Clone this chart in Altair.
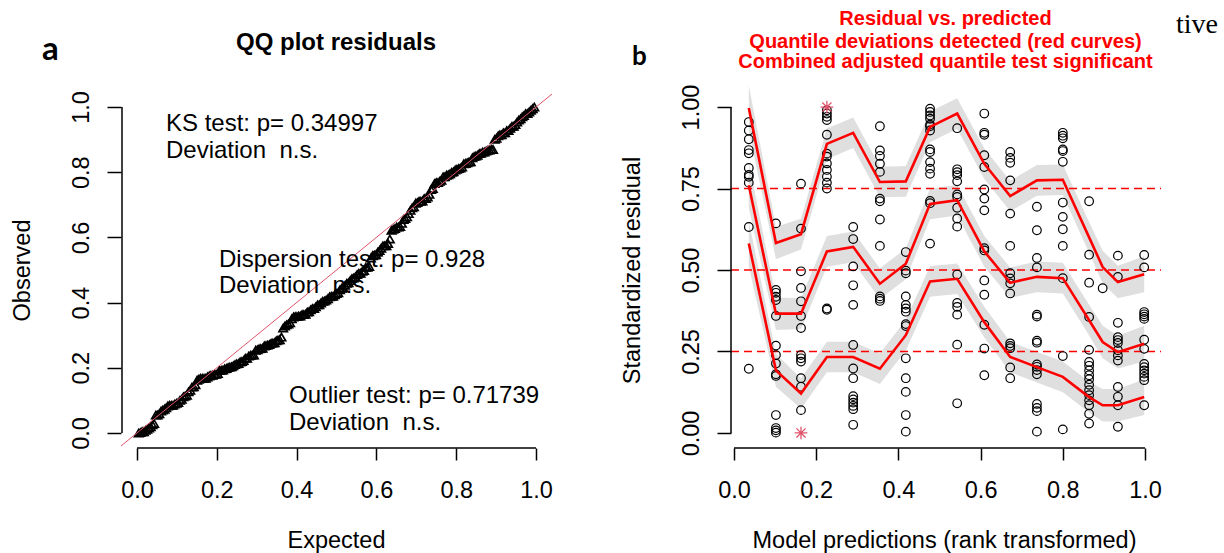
import altair as alt
import pandas as pd

FONT = "Liberation Sans"
RED = "#FF0000"
STAR_RED = "#DF536B"

# ---------------- data ----------------
# rank-transformed model predictions (x positions of the residual columns)
pred_ranks = [0.036, 0.102, 0.163, 0.226, 0.290, 0.355, 0.418, 0.477, 0.543,
              0.609, 0.672, 0.737, 0.800, 0.864, 0.897, 0.934, 0.998]

# scaled (quantile) residuals observed at each prediction rank
residuals_by_rank = [
    [0.954, 0.928, 0.901, 0.868, 0.858, 0.813, 0.792, 0.786, 0.768, 0.632, 0.197],
    [0.643, 0.439, 0.430, 0.418, 0.408, 0.359, 0.268, 0.239, 0.213, 0.180, 0.175,
     0.055, 0.015, 0.008, 0.001],
    [0.765, 0.627, 0.496, 0.445, 0.404, 0.359, 0.322, 0.239, 0.229, 0.219, 0.168,
     0.142, 0.070],
    [0.990, 0.980, 0.970, 0.960, 0.915, 0.857, 0.848, 0.827, 0.807, 0.786, 0.768,
     0.750, 0.382, 0.378],
    [0.632, 0.595, 0.511, 0.453, 0.393, 0.270, 0.198, 0.168, 0.113, 0.103, 0.093,
     0.083, 0.073, 0.025],
    [0.941, 0.867, 0.850, 0.826, 0.801, 0.719, 0.711, 0.655, 0.574, 0.419, 0.412, 0.405],
    [0.555, 0.498, 0.490, 0.419, 0.393, 0.382, 0.372, 0.334, 0.328, 0.229, 0.168,
     0.126, 0.055, 0.004],
    [0.995, 0.985, 0.974, 0.964, 0.946, 0.941, 0.928, 0.870, 0.862, 0.831, 0.811,
     0.795, 0.712, 0.705, 0.581],
    [0.935, 0.809, 0.800, 0.791, 0.772, 0.732, 0.724, 0.691, 0.658, 0.633, 0.486,
     0.399, 0.387, 0.363, 0.271, 0.091],
    [0.980, 0.921, 0.915, 0.852, 0.816, 0.747, 0.719, 0.683, 0.567, 0.560, 0.468,
     0.424, 0.332, 0.259, 0.177],
    [0.862, 0.844, 0.829, 0.775, 0.673, 0.574, 0.490, 0.474, 0.459, 0.428, 0.275,
     0.267, 0.260, 0.201, 0.168],
    [0.694, 0.622, 0.537, 0.508, 0.363, 0.357, 0.283, 0.277, 0.210, 0.203, 0.193,
     0.180, 0.089, 0.077, 0.067, 0.004],
    [0.921, 0.912, 0.904, 0.870, 0.865, 0.832, 0.707, 0.663, 0.625, 0.574, 0.475,
     0.236, 0.011],
    [0.711, 0.547, 0.461, 0.356, 0.255, 0.218, 0.206, 0.192, 0.177, 0.165, 0.148,
     0.131, 0.116, 0.100, 0.085, 0.059, 0.029],
    [0.444],
    [0.544, 0.479, 0.338, 0.294, 0.285, 0.276, 0.254, 0.238, 0.222, 0.141, 0.111,
     0.085, 0.019],
    [0.546, 0.508, 0.371, 0.364, 0.357, 0.350, 0.286, 0.258, 0.212, 0.202, 0.192,
     0.182, 0.172, 0.162, 0.085],
]

# simulation outliers (residual exactly 0 or 1)
outlier_ranks = [0.163, 0.226]
outlier_residuals = [0.0, 1.0]

# fitted quantile curves at the prediction ranks
q25_fit = [0.581, 0.192, 0.121, 0.233, 0.233, 0.197, 0.300, 0.465, 0.473, 0.340,
           0.233, 0.202, 0.172, 0.110, 0.085, 0.085, 0.110]
q50_fit = [0.760, 0.366, 0.366, 0.557, 0.571, 0.458, 0.519, 0.703, 0.714, 0.557,
           0.461, 0.479, 0.475, 0.346, 0.279, 0.248, 0.274]
q75_fit = [0.997, 0.583, 0.610, 0.887, 0.921, 0.770, 0.772, 0.939, 0.980, 0.826,
           0.727, 0.775, 0.777, 0.600, 0.509, 0.463, 0.487]
fit_halfwidth = [0.070, 0.050, 0.047, 0.047, 0.047, 0.047, 0.047, 0.047, 0.047,
                 0.047, 0.047, 0.047, 0.047, 0.047, 0.050, 0.050, 0.055]

quantile_levels = [0.25, 0.50, 0.75]
x_ticks = [0.0, 0.2, 0.4, 0.6, 0.8, 1.0]
qq_y_ticks = [0.0, 0.2, 0.4, 0.6, 0.8, 1.0]
res_y_ticks = [0.0, 0.25, 0.5, 0.75, 1.0]

qq_title = "QQ plot residuals"
qq_tests = ["KS test: p= 0.34997", "Dispersion test: p= 0.928", "Outlier test: p= 0.71739"]
qq_verdict = "Deviation\u00a0 n.s."
res_title = ["Residual vs. predicted",
             "Quantile deviations detected (red curves)",
             "Combined adjusted quantile test significant"]

# ---------------- tables ----------------
res_df = pd.DataFrame(
    [{"rank": r, "residual": v} for r, vals in zip(pred_ranks, residuals_by_rank) for v in vals]
)
out_df = pd.DataFrame({"rank": outlier_ranks, "residual": outlier_residuals})

observed = sorted(list(res_df["residual"]) + outlier_residuals)
n_obs = len(observed)
qq_df = pd.DataFrame({
    "expected": [(i + 1) / (n_obs + 1) for i in range(n_obs)],
    "observed": observed,
})
ref_df = pd.DataFrame({"expected": [-0.04, 1.04], "observed": [-0.04, 1.04]})

curve_rows = []
for lvl, fit in zip(quantile_levels, [q25_fit, q50_fit, q75_fit]):
    for r, f, h in zip(pred_ranks, fit, fit_halfwidth):
        curve_rows.append({"level": lvl, "rank": r, "fit": f, "lo": f - h, "hi": f + h})
curve_df = pd.DataFrame(curve_rows)
level_df = pd.DataFrame({"level": quantile_levels})

# ---------------- helpers ----------------
ONE = alt.Data(values=[{}])


def label(text, x, y, size=24, weight="normal", color="black", align="left",
          font=FONT):
    return alt.Chart(ONE).mark_text(
        text=text, font=font, fontSize=size, fontWeight=weight, color=color,
        align=align, baseline="alphabetic",
    ).encode(x=alt.value(x), y=alt.value(y))


def anchor(x0, x1):
    # white backdrop that fixes each panel's extent on the page
    return alt.Chart(ONE).mark_rect(color="white", strokeWidth=0).encode(
        x=alt.value(x0), x2=alt.value(x1), y=alt.value(-94), y2=alt.value(459)
    )


def x_axis(title, title_x, fmt):
    return alt.Axis(
        values=x_ticks, format=fmt, domain=False, grid=False, offset=2, zindex=2,
        tickSize=12, tickWidth=1.5, tickColor="black",
        labelFont=FONT, labelFontSize=23.5, labelColor="black",
        labelBaseline="alphabetic", labelPadding=37, labelFlush=False, labelOverlap=False,
        title=title, titleFont=FONT, titleFontSize=23.5, titleFontWeight="normal",
        titleColor="black", titleX=title_x, titleY=99, titleAlign="center",
        titleBaseline="alphabetic",
    )


def y_axis(title, ticks, fmt):
    return alt.Axis(
        values=ticks, format=fmt, domain=False, grid=False, zindex=2,
        tickSize=14, tickWidth=1.5, tickColor="black",
        labelFont=FONT, labelFontSize=23.5, labelColor="black", labelAngle=270,
        labelAlign="center", labelBaseline="alphabetic", labelPadding=19,
        labelFlush=False, labelOverlap=False,
        title=title, titleFont=FONT, titleFontSize=23.5, titleFontWeight="normal",
        titleColor="black", titleAngle=270, titleX=-92, titleY=176,
        titleAlign="center", titleBaseline="alphabetic",
    )


# ---------------- panel a: QQ plot ----------------
W1, H1 = 431, 352
xs1 = alt.Scale(domain=[-0.04, 1.04], nice=False, zero=False)
ys1 = alt.Scale(domain=[-0.04, 1.04], nice=False, zero=False)
xa1 = x_axis("Expected", 215, ".1f")
ya1 = y_axis("Observed", qq_y_ticks, ".1f")

qq_points = alt.Chart(qq_df).mark_point(
    shape="triangle-up", filled=False, color="black", strokeWidth=1.7, size=70,
    opacity=1,
).encode(
    x=alt.X("expected:Q", scale=xs1, axis=xa1),
    y=alt.Y("observed:Q", scale=ys1, axis=ya1),
)
qq_line = alt.Chart(ref_df).mark_line(color=STAR_RED, strokeWidth=1).encode(
    x=alt.X("expected:Q", scale=xs1, axis=xa1),
    y=alt.Y("observed:Q", scale=ys1, axis=ya1),
)
qq_xline = alt.Chart(ONE).mark_rule(color="black", strokeWidth=1.5).encode(
    x=alt.XDatum(0, type="quantitative", scale=xs1, axis=xa1),
    x2=alt.X2Datum(1),
    y=alt.value(H1 + 2),
)
qq_yline = alt.Chart(ONE).mark_rule(color="black", strokeWidth=1.5).encode(
    y=alt.YDatum(0, type="quantitative", scale=ys1, axis=ya1),
    y2=alt.Y2Datum(1),
    x=alt.value(1),
)

panel_a = alt.layer(
    anchor(-121, 491),
    qq_points,
    qq_line,
    qq_xline,
    qq_yline,
    label("a", -79, -34, size=33, weight="bold", font="Lato"),
    label(qq_title, 215, -44, weight="bold", align="center"),
    label(qq_tests[0], 45, 37),
    label(qq_verdict, 45, 64),
    label(qq_tests[1], 98, 173),
    label(qq_verdict, 98, 199),
    label(qq_tests[2], 168, 309),
    label(qq_verdict, 168, 336),
).properties(width=W1, height=H1)

# ---------------- panel b: residual vs predicted ----------------
W2, H2 = 430, 352
xs2 = alt.Scale(domain=[-0.0073, 1.0389], nice=False, zero=False)
ys2 = alt.Scale(domain=[-0.04, 1.04], nice=False, zero=False)
xa2 = x_axis("Model predictions (rank transformed)", 213, ".1f")
ya2 = y_axis("Standardized residual", res_y_ticks, ".2f")

bands = alt.Chart(curve_df).mark_area(color="black", opacity=0.125).encode(
    x=alt.X("rank:Q", scale=xs2, axis=xa2),
    y=alt.Y("lo:Q", scale=ys2, axis=ya2),
    y2="hi:Q",
    detail="level:N",
)
dashes = alt.Chart(level_df).mark_rule(
    color=RED, strokeWidth=1.5, strokeDash=[8, 5]
).encode(
    y=alt.Y("level:Q", scale=ys2, axis=ya2),
    x=alt.value(0),
    x2=alt.value(W2),
)
res_points = alt.Chart(res_df).mark_point(
    shape="circle", filled=False, color="black", strokeWidth=1.2, size=74, opacity=1
).encode(
    x=alt.X("rank:Q", scale=xs2, axis=xa2),
    y=alt.Y("residual:Q", scale=ys2, axis=ya2),
)
curves = alt.Chart(curve_df).mark_line(color=RED, strokeWidth=2.6).encode(
    x=alt.X("rank:Q", scale=xs2, axis=xa2),
    y=alt.Y("fit:Q", scale=ys2, axis=ya2),
    detail="level:N",
)
asterisk = "M-1,0L1,0M0,-1L0,1M-0.72,-0.72L0.72,0.72M-0.72,0.72L0.72,-0.72"
stars = alt.Chart(out_df).mark_point(
    shape=asterisk, filled=False, color=STAR_RED, strokeWidth=1.3, size=160, opacity=1
).encode(
    x=alt.X("rank:Q", scale=xs2, axis=xa2),
    y=alt.Y("residual:Q", scale=ys2, axis=ya2),
)
res_xline = alt.Chart(ONE).mark_rule(color="black", strokeWidth=1.5).encode(
    x=alt.XDatum(0, type="quantitative", scale=xs2, axis=xa2),
    x2=alt.X2Datum(1),
    y=alt.value(H2 + 2),
)
res_yline = alt.Chart(ONE).mark_rule(color="black", strokeWidth=1.5).encode(
    y=alt.YDatum(0, type="quantitative", scale=ys2, axis=ya2),
    y2=alt.Y2Datum(1),
    x=alt.value(0),
)

panel_b = alt.layer(
    anchor(-119, 493),
    bands,
    dashes,
    res_points,
    curves,
    stars,
    res_xline,
    res_yline,
    label("b", -99, -29, size=26, weight="bold", font="Lato"),
    label(res_title[0], 214.5, -69, size=20, weight="bold", color=RED, align="center"),
    label(res_title[1], 214.5, -46.5, size=20, weight="bold", color=RED, align="center"),
    label(res_title[2], 214.5, -26, size=20, weight="bold", color=RED, align="center"),
    label("tive", 445, -61, size=28, font="Liberation Serif"),
).properties(width=W2, height=H2)

chart = alt.hconcat(panel_a, panel_b, spacing=0).properties(
    padding={"left": 0, "top": 0, "right": 0, "bottom": 0},
    background="white",
).configure_view(stroke=None)

chart.save("out.html", embed_options={"renderer": "svg", "actions": False})
